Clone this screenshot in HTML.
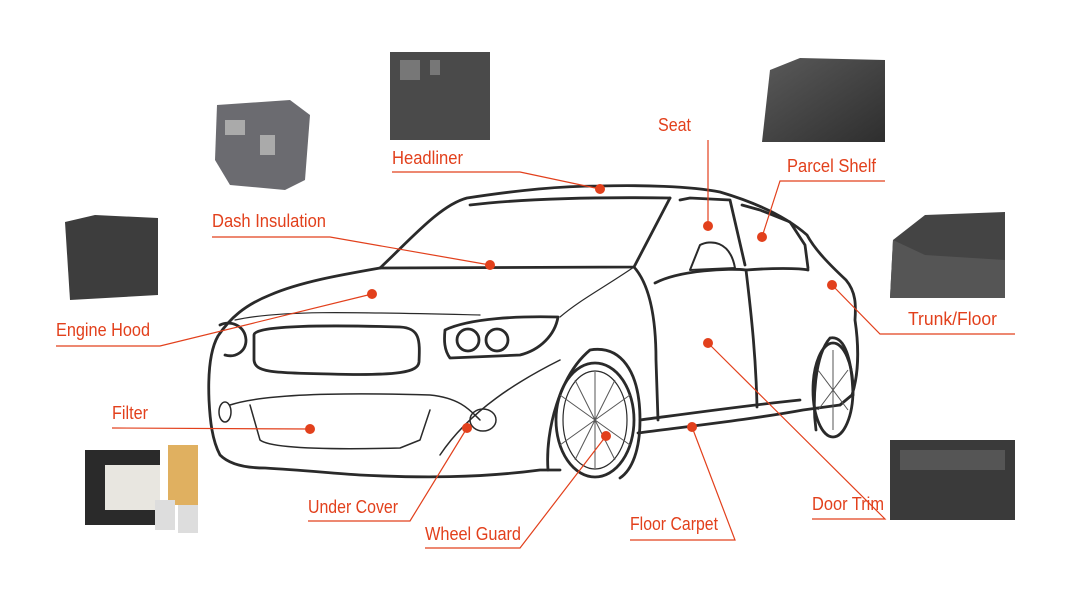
<!DOCTYPE html>
<html><head><meta charset="utf-8"><style>
html,body{margin:0;padding:0;background:#fff;}
svg{display:block}
text{font-family:"Liberation Sans",sans-serif;font-size:18px;fill:#e2401c;}
</style></head><body>
<svg width="1080" height="600" viewBox="0 0 1080 600" xmlns="http://www.w3.org/2000/svg">
<defs>
<linearGradient id="g1" x1="0" y1="0" x2="1" y2="1"><stop offset="0" stop-color="#5a5a5a"/><stop offset="1" stop-color="#2e2e2e"/></linearGradient>
</defs>
<rect x="390" y="52" width="100" height="88" fill="#4a4a4a"/>
<path d="M400 60 h20 v20 h-20z M430 60 h10 v15 h-10z" fill="#777"/>
<path d="M217 105 L290 100 L310 115 L305 180 L285 190 L230 185 L215 160 Z" fill="#6b6b70"/>
<path d="M225 120 h20 v15 h-20z M260 135 h15 v20 h-15z" fill="#aaa"/>
<path d="M65 222 L95 215 L158 218 L158 295 L70 300 Z" fill="#3d3d3d"/>
<path d="M770 70 L800 58 L885 60 L885 142 L762 142 Z" fill="url(#g1)"/>
<path d="M893 240 L925 215 L1005 212 L1005 298 L890 298 Z" fill="#444"/>
<path d="M893 240 L925 255 L1005 260 L1005 298 L890 298 Z" fill="#555"/>
<rect x="890" y="440" width="125" height="80" fill="#3a3a3a"/>
<path d="M900 450 h105 v20 h-105z" fill="#555"/>
<rect x="85" y="450" width="75" height="75" fill="#2a2a2a"/>
<rect x="105" y="465" width="55" height="45" fill="#e8e6e0"/>
<rect x="168" y="445" width="30" height="60" fill="#e0b060"/>
<rect x="155" y="500" width="20" height="30" fill="#ddd"/>
<rect x="178" y="505" width="20" height="28" fill="#ddd"/>

<g fill="none" stroke="#2a2a2a" stroke-width="2.8" stroke-linejoin="round" stroke-linecap="round">
<path d="M380 268 C410 240 440 205 467 198 C520 190 560 186 600 186 C640 185 690 186 720 192 C764 205 790 220 807 235 C815 250 830 265 846 280 C856 292 856 305 855 320 C858 340 860 370 852 395 L840 405"/>
<path d="M380 268 C340 275 300 282 270 295 C245 305 230 318 218 336 C210 350 208 375 209 400 C210 420 212 440 220 455 C230 465 248 468 265 468 C300 470 330 473 360 475 C420 478 480 478 540 470 L560 470"/>
<path d="M380 268 L634 267 L670 198"/>
<path d="M470 205 C530 198 600 197 670 198"/>
<path d="M634 267 C650 285 656 320 656 360 L658 420"/>
<path d="M655 283 C680 270 730 268 746 270 C770 268 800 268 808 270"/>
<path d="M680 200 L690 198 L730 200 L745 265"/>
<path d="M742 205 L760 210 L790 222 L805 245 L808 268"/>
<path d="M746 270 C752 320 756 360 757 407"/>
<path d="M638 433 C700 425 760 418 803 410 L840 405"/>
<path d="M640 420 C700 412 750 405 800 400"/>
<path d="M254 335 C254 325 330 325 400 327 C420 328 420 340 419 362 C418 372 400 376 330 374 C270 373 255 372 254 360 Z"/>
<path d="M445 330 C470 318 520 316 558 317 C555 335 540 350 520 355 L450 358 C444 350 444 340 445 330 Z"/>
<circle cx="468" cy="340" r="11"/><circle cx="497" cy="340" r="11"/>
<path d="M220 325 C230 320 245 325 246 340 C246 352 235 358 225 355"/>
<ellipse cx="595" cy="420" rx="39" ry="57"/>
<ellipse cx="595" cy="420" rx="32" ry="49" stroke-width="1.2"/>
<path d="M548 470 C545 430 560 375 590 350 C620 345 640 370 640 420 C640 450 632 470 620 478"/>
<ellipse cx="833" cy="390" rx="20" ry="47"/>
<path d="M816 430 C812 400 815 355 830 338 C845 335 852 360 853 395"/>
<path d="M440 455 C470 410 520 380 560 360" stroke-width="1.5"/>
<path d="M230 405 C260 395 330 392 430 395 C460 398 470 410 480 420" stroke-width="1.5"/>
<path d="M250 405 L260 440 C270 448 320 450 400 448 L420 440 L430 410" stroke-width="1.5"/>
<ellipse cx="483" cy="420" rx="13" ry="11" stroke-width="1.5"/>
<ellipse cx="225" cy="412" rx="6" ry="10" stroke-width="1.5"/>
<path d="M235 320 C280 310 350 312 480 315" stroke-width="1.2"/>
<path d="M560 317 C580 300 600 290 634 267" stroke-width="1.2"/>
<path d="M700 245 C710 240 730 240 735 268 L690 270 Z" stroke-width="2"/>
</g>
<g stroke="#555" stroke-width="1" fill="none">
<path d="M595 372 L595 468 M560 395 L630 445 M560 445 L630 395 M575 380 L615 460 M575 460 L615 380"/>
<path d="M833 350 L833 430 M818 370 L848 410 M818 410 L848 370"/>
</g>

<g stroke="#e2401c" stroke-width="1.2" fill="none">
<path d="M392 172 L520 172 L600 189"/>
<path d="M708 140 L708 226"/>
<path d="M885 181 L780 181 L762 237"/>
<path d="M1015 334 L880 334 L832 285"/>
<path d="M212 237 L330 237 L490 265"/>
<path d="M56 346 L160 346 L372 294"/>
<path d="M112 428 L310 429"/>
<path d="M308 521 L410 521 L467 428"/>
<path d="M425 548 L520 548 L606 436"/>
<path d="M630 540 L735 540 L692 427"/>
<path d="M812 519 L885 519 L708 343"/>
</g>
<g fill="#e2401c">
<circle cx="600" cy="189" r="5"/><circle cx="708" cy="226" r="5"/><circle cx="762" cy="237" r="5"/>
<circle cx="832" cy="285" r="5"/><circle cx="490" cy="265" r="5"/><circle cx="372" cy="294" r="5"/>
<circle cx="310" cy="429" r="5"/><circle cx="467" cy="428" r="5"/><circle cx="606" cy="436" r="5"/>
<circle cx="692" cy="427" r="5"/><circle cx="708" cy="343" r="5"/>
</g>
<text x="392" y="164" textLength="71" lengthAdjust="spacingAndGlyphs">Headliner</text>
<text x="658" y="131" textLength="33" lengthAdjust="spacingAndGlyphs">Seat</text>
<text x="787" y="172" textLength="89" lengthAdjust="spacingAndGlyphs">Parcel Shelf</text>
<text x="908" y="325" textLength="89" lengthAdjust="spacingAndGlyphs">Trunk/Floor</text>
<text x="212" y="227" textLength="114" lengthAdjust="spacingAndGlyphs">Dash Insulation</text>
<text x="56" y="336" textLength="94" lengthAdjust="spacingAndGlyphs">Engine Hood</text>
<text x="112" y="419" textLength="36" lengthAdjust="spacingAndGlyphs">Filter</text>
<text x="308" y="513" textLength="90" lengthAdjust="spacingAndGlyphs">Under Cover</text>
<text x="425" y="540" textLength="96" lengthAdjust="spacingAndGlyphs">Wheel Guard</text>
<text x="630" y="530" textLength="88" lengthAdjust="spacingAndGlyphs">Floor Carpet</text>
<text x="812" y="510" textLength="72" lengthAdjust="spacingAndGlyphs">Door Trim</text>
</svg>
</body></html>
